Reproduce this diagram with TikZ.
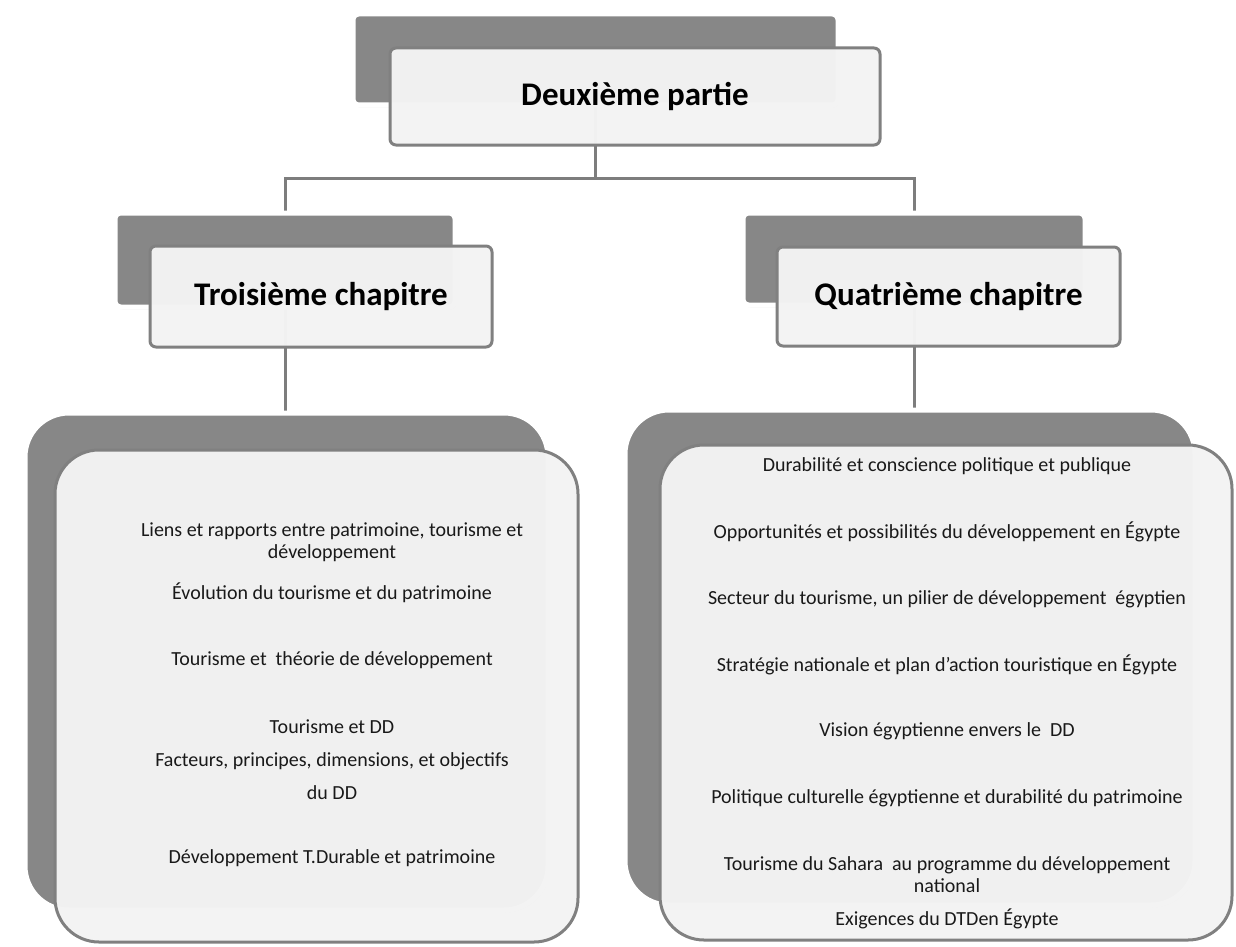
\documentclass[tikz,border=0pt]{standalone}
\usepackage{fontspec}
\setmainfont{Carlito}
\usepackage{tikz}
\usetikzlibrary{positioning, shadows, backgrounds, calc}
\usepackage{xcolor}
\definecolor{boxdark}{RGB}{135, 135, 135}
\definecolor{boxpale}{RGB}{243, 243, 243}
\definecolor{edgegrey}{RGB}{128, 128, 128}
\definecolor{linkgrey}{RGB}{125, 125, 125}

\begin{document}
\begin{tikzpicture}[
    x=1pt, y=-1pt,
    backbox/.style={rectangle, rounded corners=6pt, draw=white, line width=5pt, fill=boxdark, drop shadow={opacity=0.15, shadow xshift=1.5pt, shadow yshift=-2.5pt}},
    frontbox/.style={rectangle, rounded corners=6pt, draw=edgegrey, line width=3pt, fill=boxpale, fill opacity=0.975, text opacity=1, font=\fontsize{33}{36}\selectfont\bfseries},
    listback/.style={backbox, rounded corners=44pt},
    listfront/.style={frontbox, rounded corners=44pt},
    item/.style={align=center, font=\fontsize{20}{22}\selectfont, text=black!90},
    link/.style={draw=linkgrey, line width=3pt},
]
\useasboundingbox (0,0) rectangle (1236,947);

% partie
\node[backbox, minimum width=485, minimum height=91] (partieback) at (595.5,59.5) {};
\node[frontbox, minimum width=490, minimum height=97] (partie) at (635,96.5) {\raisebox{-6pt}{Deuxième partie}};

% chapitres
\node[backbox, minimum width=340, minimum height=94] (troisback) at (285,260) {};
\node[frontbox, minimum width=342, minimum height=101] (trois) at (321,296.5) {Troisième chapitre};
\node[backbox, minimum width=342, minimum height=92] (quatreback) at (914,259) {};
\node[frontbox, minimum width=343, minimum height=99] (quatre) at (948.5,296.5) {Quatrième chapitre};

% contenus
\node[listback, minimum width=523, minimum height=497] (listtroisback) at (286.5,661.5) {};
\node[listfront, minimum width=523, minimum height=492] (listtrois) at (316.5,696) {};
\node[listback, minimum width=570, minimum height=495] (listquatreback) at (910,657.5) {};
\node[listfront, minimum width=572, minimum height=495] (listquatre) at (946,692.5) {};

% liens
\coordinate (bar) at (595.5,178);
\begin{scope}[on background layer]
\draw[link] (partieback.center) -- (bar);
\draw[link] (troisback.center) |- (bar) -| (quatreback.center);
\draw[link] (troisback.center) -- (troisback.center |- listtroisback.center);
\draw[link] (quatreback.center) -- (quatreback.center |- listquatreback.center);
\end{scope}

% troisieme chapitre
\node[item] (t1) at (332,542) {Liens et rapports entre patrimoine, tourisme et\\développement};
\node[item] (t2) at (332,593) {Évolution du tourisme et du patrimoine};
\node[item] (t3) at (332,660) {Tourisme et~ théorie de développement};
\node[item, font=\fontsize{20}{33}\selectfont] (t4) at (332,760) {Tourisme et DD\\Facteurs, principes, dimensions, et objectifs\\du DD};
\node[item] (t5) at (332,858) {Développement T.Durable et patrimoine};

% quatrieme chapitre
\node[item] (q1) at (947,466) {Durabilité et conscience politique et publique};
\node[item] (q2) at (947,532) {Opportunités et possibilités du développement en Égypte};
\node[item] (q3) at (947,599) {Secteur du tourisme, un pilier de développement~ égyptien};
\node[item] (q4) at (947,665) {Stratégie nationale et plan d'action touristique en Égypte};
\node[item] (q5) at (947,731) {Vision égyptienne envers le~ DD};
\node[item] (q6) at (947,798) {Politique culturelle égyptienne et durabilité du patrimoine};
\node[item] (q7) at (947,875) {Tourisme du Sahara~ au programme du développement\\national};
\node[item] (q8) at (947,919) {Exigences du DTDen Égypte};

\end{tikzpicture}
\end{document}
